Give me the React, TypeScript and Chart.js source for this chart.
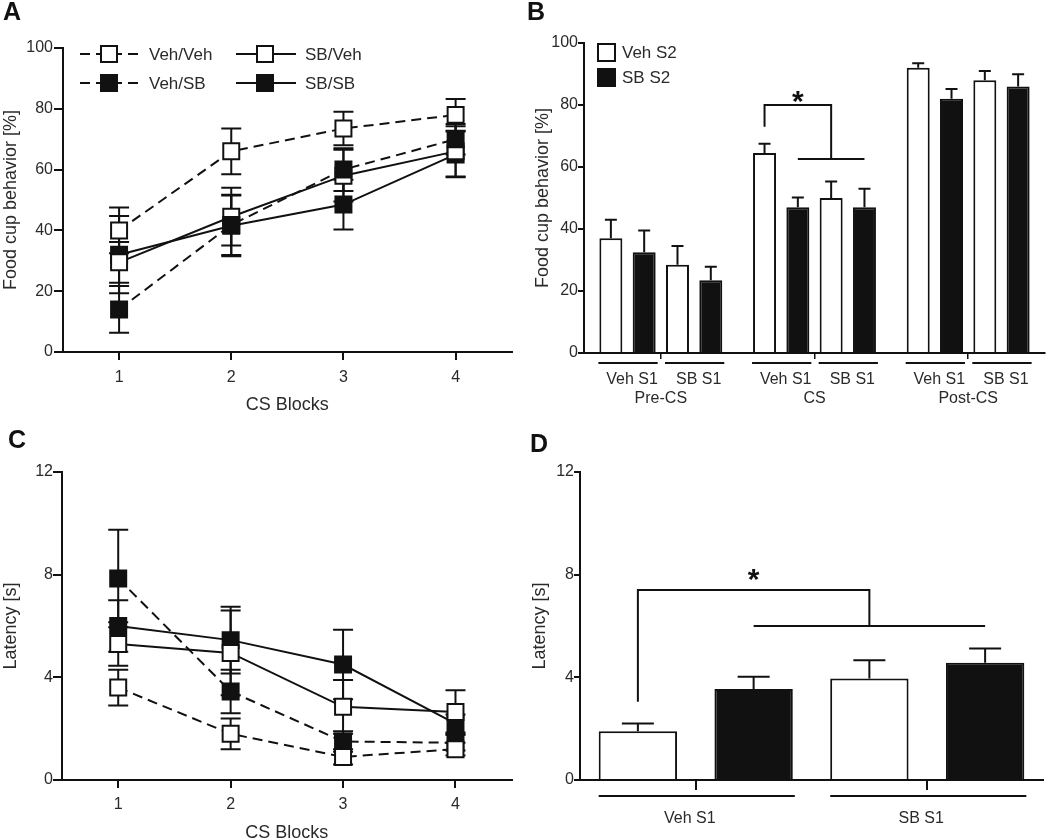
import React, { useEffect, useRef } from 'react';
import { Chart, registerables } from 'chart.js';

Chart.register(...registerables);

const FONT = '"Liberation Sans", Arial, Helvetica, sans-serif';
const TEXT = '#2a2a2a';
const INK = '#111111';

// ---------------- Panel A : food cup behaviour across CS blocks ----------------
const csBlocks = ['1', '2', '3', '4'];
const aVehVeh = [40, 66, 73.5, 78];
const aVehVehErr = [7.5, 7.5, 5.5, 5.2];
const aVehSB = [14, 41.8, 60, 70];
const aVehSBErr = [7.7, 9.9, 7, 5];
const aSBVeh = [29.5, 44.5, 58, 66];
const aSBVehErr = [6.7, 9.5, 8.5, 8.3];
const aSBSB = [32, 41.5, 48.5, 65];
const aSBSBErr = [12.7, 10, 8.2, 7.5];

// ---------------- Panel B : food cup behaviour by phase ----------------
const phases = ['Pre-CS', 'CS', 'Post-CS'];
const s1Groups = ['Veh S1', 'SB S1'];
const s2Groups = ['Veh S2', 'SB S2'];
const bVehS1VehS2 = [37, 64.5, 92];
const bVehS1VehS2Err = [6, 3, 1.5];
const bVehS1SBS2 = [32.5, 47, 82];
const bVehS1SBS2Err = [7, 3.2, 3.2];
const bSBS1VehS2 = [28.5, 50, 88];
const bSBS1VehS2Err = [6, 5.3, 3];
const bSBS1SBS2 = [23.5, 47, 86];
const bSBS1SBS2Err = [4.3, 6, 3.9];
const bBracket = { foot: 73, top: 80, low: 62.6, star: 83.5 };

// ---------------- Panel C : latency across CS blocks ----------------
const cVehVeh = [3.6, 1.8, 0.9, 1.2];
const cVehVehErr = [0.7, 0.6, 0.3, 0.25];
const cVehSB = [7.85, 3.45, 1.5, 1.45];
const cVehSBErr = [1.9, 0.85, 0.4, 0.3];
const cSBVeh = [5.3, 4.95, 2.85, 2.65];
const cSBVehErr = [0.85, 1.65, 1.05, 0.85];
const cSBSB = [6.0, 5.45, 4.5, 2.2];
const cSBSBErr = [1.0, 1.3, 1.35, 0.35];

// ---------------- Panel D : latency by S1 group ----------------
const dVehS2 = [1.9, 3.95];
const dVehS2Err = [0.3, 0.72];
const dSBS2 = [3.55, 4.57];
const dSBS2Err = [0.47, 0.55];
const dBracket = { foot: 3.05, top: 7.4, low: 6.0, star: 8.1 };

const groupLabels = ['Veh/Veh', 'Veh/SB', 'SB/Veh', 'SB/SB'];

// ---------------- helpers ----------------
function lineDs(label: string, data: number[], errors: number[], filled: boolean, dashed: boolean, order: number) {
  return {
    label,
    data,
    errors,
    order,
    filledMarker: filled,
    borderColor: INK,
    borderWidth: 2,
    borderDash: dashed ? [10, 6] : [],
    pointStyle: 'rect',
    pointRadius: 11.3,
    pointHoverRadius: 11.3,
    pointBorderWidth: 2,
    pointBackgroundColor: filled ? INK : '#ffffff',
    pointBorderColor: INK,
    fill: false,
    tension: 0,
  };
}

function barDs(label: string, data: number[], errors: number[], filled: boolean) {
  return {
    label,
    data,
    errors,
    backgroundColor: filled ? INK : '#ffffff',
    borderColor: INK,
    borderWidth: 2,
    borderSkipped: 'start',
  };
}

function yAxis(o: any) {
  return {
    type: 'linear',
    min: 0,
    max: o.max,
    ticks: { stepSize: o.step, color: TEXT, font: { family: FONT, size: 16 }, padding: o.pad },
    grid: { display: true, drawOnChartArea: false, drawTicks: true, tickLength: o.tickLength, color: INK, lineWidth: 2 },
    border: { display: true, color: INK, width: 2 },
    title: {
      display: true,
      text: o.title,
      color: TEXT,
      font: { family: FONT, size: 18 },
      padding: { top: o.titlePad, bottom: 0 },
    },
    afterFit: (s: any) => {
      s.width = o.width;
    },
  };
}

function xAxis(o: any) {
  return {
    type: 'category',
    offset: true,
    grid: {
      display: true,
      drawOnChartArea: false,
      drawTicks: true,
      tickLength: o.tickLength,
      color: INK,
      lineWidth: o.tickWidth ?? 2,
      offset: false,
    },
    border: { display: true, color: INK, width: 2 },
    ticks: {
      color: TEXT,
      font: { family: FONT, size: 16 },
      padding: o.labelPad,
      labelOffset: o.labelOffset ?? 0,
      maxRotation: 0,
      autoSkip: false,
    },
    title: o.title
      ? {
          display: true,
          text: o.title,
          color: TEXT,
          font: { family: FONT, size: 18 },
          padding: { top: 0, bottom: o.titlePadBottom },
        }
      : { display: false },
    afterFit: (s: any) => {
      s.height = o.height;
    },
  };
}

function baseOptions(padding: any) {
  return {
    responsive: false,
    maintainAspectRatio: false,
    animation: false,
    devicePixelRatio: 1,
    events: [],
    layout: { padding },
    plugins: { legend: { display: false }, tooltip: { enabled: false } },
  };
}

function panelLetter(letter: string, x: number, y: number) {
  return {
    id: 'panelLetter',
    afterDraw(chart: any) {
      const ctx = chart.ctx;
      ctx.save();
      ctx.font = `bold 25px ${FONT}`;
      ctx.fillStyle = INK;
      ctx.textAlign = 'left';
      ctx.textBaseline = 'alphabetic';
      ctx.fillText(letter, x, y);
      ctx.restore();
    },
  };
}

function errorBars(cap: number, both: boolean) {
  const draw = (chart: any) => {
    const ctx = chart.ctx;
    const ys = chart.scales.y;
    ctx.save();
    ctx.strokeStyle = INK;
    ctx.lineWidth = 2;
    ctx.setLineDash([]);
    chart.data.datasets.forEach((ds: any, di: number) => {
      if (!ds.errors) return;
      const meta = chart.getDatasetMeta(di);
      meta.data.forEach((el: any, i: number) => {
        const v = ds.data[i];
        const e = ds.errors[i];
        const x = el.x;
        const hi = ys.getPixelForValue(v + e);
        const lo = both ? ys.getPixelForValue(v - e) : el.y;
        ctx.beginPath();
        ctx.moveTo(x, lo);
        ctx.lineTo(x, hi);
        ctx.moveTo(x - cap / 2, hi);
        ctx.lineTo(x + cap / 2, hi);
        if (both) {
          ctx.moveTo(x - cap / 2, lo);
          ctx.lineTo(x + cap / 2, lo);
        }
        ctx.stroke();
      });
    });
    ctx.restore();
  };
  return both
    ? { id: 'errorBars', beforeDatasetsDraw: draw }
    : { id: 'errorBars', afterDatasetsDraw: draw };
}

function drawMarker(ctx: any, cx: number, cy: number, filled: boolean) {
  ctx.save();
  ctx.setLineDash([]);
  ctx.fillStyle = filled ? INK : '#ffffff';
  ctx.strokeStyle = INK;
  ctx.lineWidth = 2;
  ctx.beginPath();
  ctx.rect(cx - 8, cy - 8, 16, 16);
  ctx.fill();
  ctx.stroke();
  ctx.restore();
}

// legend for the line panels (A): 2 x 2 grid of line+marker samples
const lineLegend = {
  id: 'lineLegend',
  afterDraw(chart: any) {
    const ctx = chart.ctx;
    const colX = [80, 236];
    const rowY = [54, 83];
    chart.data.datasets.forEach((ds: any, i: number) => {
      const x0 = colX[i < 2 ? 0 : 1];
      const y = rowY[i % 2];
      ctx.save();
      ctx.strokeStyle = INK;
      ctx.lineWidth = 2;
      ctx.setLineDash(ds.borderDash);
      ctx.beginPath();
      ctx.moveTo(x0, y);
      ctx.lineTo(x0 + 60, y);
      ctx.stroke();
      ctx.restore();
      drawMarker(ctx, x0 + 29, y, ds.filledMarker);
      ctx.save();
      ctx.font = `17px ${FONT}`;
      ctx.fillStyle = TEXT;
      ctx.textAlign = 'left';
      ctx.textBaseline = 'middle';
      ctx.fillText(ds.label, x0 + 69, y + 1);
      ctx.restore();
    });
  },
};

// legend for bar panel B
const barLegend = {
  id: 'barLegend',
  afterDraw(chart: any) {
    const ctx = chart.ctx;
    s2Groups.forEach((label, i) => {
      const x = 72;
      const y = 43 + i * 25;
      ctx.save();
      ctx.fillStyle = i === 0 ? '#ffffff' : INK;
      ctx.fillRect(x, y, 19, 19);
      ctx.strokeStyle = INK;
      ctx.lineWidth = 2;
      ctx.strokeRect(x + 1, y + 1, 17, 17);
      ctx.font = `17px ${FONT}`;
      ctx.fillStyle = TEXT;
      ctx.textAlign = 'left';
      ctx.textBaseline = 'middle';
      ctx.fillText(label, x + 25, y + 10);
      ctx.restore();
    });
  },
};

function drawStar(ctx: any, x: number, yCenter: number) {
  ctx.save();
  ctx.font = `bold 30px ${FONT}`;
  ctx.fillStyle = INK;
  ctx.textAlign = 'center';
  ctx.textBaseline = 'alphabetic';
  ctx.fillText('*', x, yCenter + 17);
  ctx.restore();
}

// significance bracket: vertical foot at "left" bar, top bar to "corner", drop to lower bar spanning from..to
function bracket(spec: any) {
  return {
    id: 'bracket',
    afterDatasetsDraw(chart: any) {
      const ctx = chart.ctx;
      const ys = chart.scales.y;
      const el = (p: number[]) => chart.getDatasetMeta(p[0]).data[p[1]];
      const xl = el(spec.left).x;
      const xc = el(spec.corner).x;
      const xa = el(spec.from).x;
      const xb = el(spec.to).x;
      const yFoot = ys.getPixelForValue(spec.values.foot);
      const yTop = ys.getPixelForValue(spec.values.top);
      const yLow = ys.getPixelForValue(spec.values.low);
      ctx.save();
      ctx.strokeStyle = INK;
      ctx.lineWidth = 2;
      ctx.beginPath();
      ctx.moveTo(xl, yFoot);
      ctx.lineTo(xl, yTop);
      ctx.lineTo(xc, yTop);
      ctx.lineTo(xc, yLow);
      ctx.moveTo(xa, yLow);
      ctx.lineTo(xb, yLow);
      ctx.stroke();
      ctx.restore();
      drawStar(ctx, el(spec.from).x, ys.getPixelForValue(spec.values.star));
    },
  };
}

// Panel B: underline + label for each S1 pair inside each phase
const pairLabels = {
  id: 'pairLabels',
  afterDatasetsDraw(chart: any) {
    const ctx = chart.ctx;
    const xs = chart.scales.x;
    const pairs = [
      [0, 1],
      [2, 3],
    ];
    phases.forEach((_, c) => {
      pairs.forEach((p, pi) => {
        const a = chart.getDatasetMeta(p[0]).data[c];
        const b = chart.getDatasetMeta(p[1]).data[c];
        const xl = a.x - a.width / 2 - 1;
        const xr = b.x + b.width / 2 + 2;
        ctx.save();
        ctx.strokeStyle = INK;
        ctx.lineWidth = 2;
        ctx.beginPath();
        ctx.moveTo(xl, xs.top + 10);
        ctx.lineTo(xr, xs.top + 10);
        ctx.stroke();
        ctx.font = `16px ${FONT}`;
        ctx.fillStyle = TEXT;
        ctx.textAlign = 'center';
        ctx.textBaseline = 'middle';
        ctx.fillText(s1Groups[pi], (xl + xr) / 2 + 4, xs.top + 27);
        ctx.restore();
      });
    });
  },
};

// Panel D: underline for each S1 group
const groupLines = {
  id: 'groupLines',
  afterDatasetsDraw(chart: any) {
    const ctx = chart.ctx;
    const xs = chart.scales.x;
    s1Groups.forEach((_, c) => {
      const a = chart.getDatasetMeta(0).data[c];
      const b = chart.getDatasetMeta(1).data[c];
      const xl = a.x - a.width / 2;
      const xr = b.x + b.width / 2 + 2;
      ctx.save();
      ctx.strokeStyle = INK;
      ctx.lineWidth = 2;
      ctx.beginPath();
      ctx.moveTo(xl, xs.top + 16);
      ctx.lineTo(xr, xs.top + 16);
      ctx.stroke();
      ctx.restore();
    });
  },
};

// ---------------- chart configs ----------------
function makeA(): any {
  return {
    type: 'line',
    data: {
      labels: csBlocks,
      datasets: [
        lineDs(groupLabels[0], aVehVeh, aVehVehErr, false, true, 3),
        lineDs(groupLabels[1], aVehSB, aVehSBErr, true, true, 0),
        lineDs(groupLabels[2], aSBVeh, aSBVehErr, false, false, 1),
        lineDs(groupLabels[3], aSBSB, aSBSBErr, true, false, 2),
      ],
    },
    options: {
      ...baseOptions({ top: 48, right: 7, left: 0, bottom: 0 }),
      scales: {
        x: xAxis({ tickLength: 8, labelPad: 8, title: 'CS Blocks', titlePadBottom: 4, height: 68 }),
        y: yAxis({ max: 100, step: 20, title: 'Food cup behavior [%]', width: 63, tickLength: 9, pad: 1, titlePad: 0 }),
      },
    },
    plugins: [errorBars(20, true), lineLegend, panelLetter('A', 3, 20)],
  };
}

function makeB(): any {
  return {
    type: 'bar',
    data: {
      labels: phases,
      datasets: [
        barDs(`${s1Groups[0]} / ${s2Groups[0]}`, bVehS1VehS2, bVehS1VehS2Err, false),
        barDs(`${s1Groups[0]} / ${s2Groups[1]}`, bVehS1SBS2, bVehS1SBS2Err, true),
        barDs(`${s1Groups[1]} / ${s2Groups[0]}`, bSBS1VehS2, bSBS1VehS2Err, false),
        barDs(`${s1Groups[1]} / ${s2Groups[1]}`, bSBS1SBS2, bSBS1SBS2Err, true),
      ],
    },
    options: {
      ...baseOptions({ top: 43, right: 5, left: 0, bottom: 0 }),
      datasets: { bar: { categoryPercentage: 0.867, barPercentage: 0.69 } },
      scales: {
        x: xAxis({ tickLength: 6, tickWidth: 1.5, labelPad: 30, height: 67 }),
        y: yAxis({ max: 100, step: 20, title: 'Food cup behavior [%]', width: 59, tickLength: 6, pad: 0, titlePad: 7.5 }),
      },
    },
    plugins: [
      errorBars(12, false),
      pairLabels,
      bracket({ left: [0, 1], corner: [2, 1], from: [1, 1], to: [3, 1], values: bBracket }),
      barLegend,
      panelLetter('B', 2, 20),
    ],
  };
}

function makeC(): any {
  return {
    type: 'line',
    data: {
      labels: csBlocks,
      datasets: [
        lineDs(groupLabels[0], cVehVeh, cVehVehErr, false, true, 0),
        lineDs(groupLabels[1], cVehSB, cVehSBErr, true, true, 2),
        lineDs(groupLabels[2], cSBVeh, cSBVehErr, false, false, 1),
        lineDs(groupLabels[3], cSBSB, cSBSBErr, true, false, 3),
      ],
    },
    options: {
      ...baseOptions({ top: 52, right: 7, left: 0, bottom: 0 }),
      scales: {
        x: xAxis({ tickLength: 8, labelPad: 6.5, title: 'CS Blocks', titlePadBottom: 16.5, height: 80 }),
        y: yAxis({ max: 12, step: 4, title: 'Latency [s]', width: 62, tickLength: 9, pad: 0, titlePad: 0 }),
      },
    },
    plugins: [errorBars(20, true), panelLetter('C', 8, 28)],
  };
}

function makeD(): any {
  return {
    type: 'bar',
    data: {
      labels: s1Groups,
      datasets: [barDs(s2Groups[0], dVehS2, dVehS2Err, false), barDs(s2Groups[1], dSBS2, dSBS2Err, true)],
    },
    options: {
      ...baseOptions({ top: 52, right: 7, left: 0, bottom: 0 }),
      datasets: { bar: { categoryPercentage: 1, barPercentage: 0.677 } },
      scales: {
        x: xAxis({ tickLength: 10, tickWidth: 2, labelPad: 19, labelOffset: -6, height: 59 }),
        y: yAxis({ max: 12, step: 4, title: 'Latency [s]', width: 55, tickLength: 6, pad: 0, titlePad: 4 }),
      },
    },
    plugins: [
      errorBars(32, false),
      groupLines,
      bracket({ left: [0, 0], corner: [0, 1], from: [1, 0], to: [1, 1], values: dBracket }),
      panelLetter('D', 5, 32),
    ],
  };
}

function ChartPanel(props: { left: number; top: number; width: number; height: number; make: () => any }) {
  const ref = useRef<HTMLCanvasElement | null>(null);
  useEffect(() => {
    if (!ref.current) return;
    const chart = new Chart(ref.current, props.make());
    return () => chart.destroy();
  }, []);
  return (
    <canvas
      ref={ref}
      width={props.width}
      height={props.height}
      style={{ position: 'absolute', left: props.left, top: props.top, width: props.width, height: props.height, display: 'block' }}
    />
  );
}

export default function App() {
  return (
    <div
      style={{
        position: 'absolute',
        left: 0,
        top: 0,
        width: 1050,
        height: 839,
        overflow: 'hidden',
        background: '#ffffff',
      }}
    >
      <ChartPanel left={0} top={0} width={525} height={420} make={makeA} />
      <ChartPanel left={525} top={0} width={525} height={420} make={makeB} />
      <ChartPanel left={0} top={420} width={525} height={440} make={makeC} />
      <ChartPanel left={525} top={420} width={525} height={419} make={makeD} />
    </div>
  );
}
